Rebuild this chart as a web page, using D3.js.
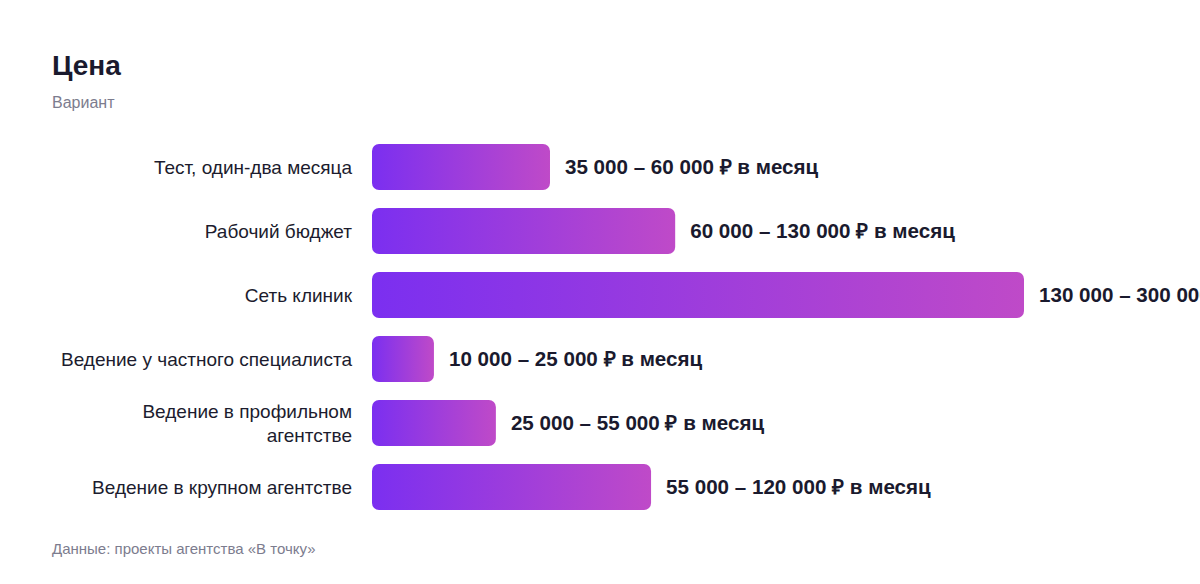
<!DOCTYPE html>
<html>
<head>
<meta charset="utf-8">
<script src="https://cdn.jsdelivr.net/npm/d3@7"></script>
<style>
  body { margin: 0; background: #fff; }
  svg { display: block; font-family: "Liberation Sans", Arial, Helvetica, sans-serif; }
</style>
</head>
<body>
<div id="chart"></div>
<script>
// categories (a "\n" splits a label onto two lines)
var categories = [
  "Тест, один-два месяца",
  "Рабочий бюджет",
  "Сеть клиник",
  "Ведение у частного специалиста",
  "Ведение в профильном\nагентстве",
  "Ведение в крупном агентстве"
];
// relative bar length (largest = 100)
var barValues = [27.3, 46.5, 100, 9.5, 19, 42.8];
var priceLabels = [
  "35 000 – 60 000 ₽ в месяц",
  "60 000 – 130 000 ₽ в месяц",
  "130 000 – 300 000 ₽ в месяц",
  "10 000 – 25 000 ₽ в месяц",
  "25 000 – 55 000 ₽ в месяц",
  "55 000 – 120 000 ₽ в месяц"
];

function renderBars(elem) {
  var width = 1200, height = 584;
  var plotLeft = 372, plotRight = 1024, plotTop = 144, plotBottom = 510;

  var svg = elem.append("svg")
    .attr("width", width)
    .attr("height", height);

  // gradient is per bar (objectBoundingBox)
  var grad = svg.append("defs").append("linearGradient")
    .attr("id", "barGrad")
    .attr("x1", "0%").attr("x2", "100%")
    .attr("y1", "0%").attr("y2", "0%");
  grad.append("stop").attr("offset", "0%").attr("stop-color", "#7b2ff0");
  grad.append("stop").attr("offset", "100%").attr("stop-color", "#bf4ac8");

  svg.append("text")
    .attr("x", 52).attr("y", 75)
    .attr("font-size", 28)
    .attr("font-weight", 700)
    .attr("fill", "#1a1a2e")
    .text("Цена");

  svg.append("text")
    .attr("x", 52).attr("y", 108)
    .attr("font-size", 16)
    .attr("fill", "#7c7c8e")
    .text("Вариант");

  var x = d3.scaleLinear()
    .domain([0, d3.max(barValues)])
    .range([plotLeft, plotRight]);

  var y = d3.scaleBand()
    .domain(categories)
    .range([plotTop, plotBottom])
    .paddingInner(0.28125)
    .paddingOuter(0);

  var row = svg.selectAll(".row")
    .data(categories)
    .enter().append("g")
      .attr("class", "row");

  row.append("rect")
    .attr("x", x(0))
    .attr("y", function(d) { return y(d); })
    .attr("width", function(d, i) { return x(barValues[i]) - x(0); })
    .attr("height", y.bandwidth())
    .attr("rx", 7)
    .attr("fill", "url(#barGrad)");

  // category labels, right aligned
  row.append("text")
    .attr("text-anchor", "end")
    .attr("font-size", 19)
    .attr("fill", "#1c1c2e")
    .each(function(d) {
      var lines = d.split("\n");
      var self = d3.select(this);
      var mid = y(d) + y.bandwidth() / 2;
      var lh = 24;
      lines.forEach(function(line, k) {
        self.append("tspan")
          .attr("x", plotLeft - 20)
          .attr("y", mid + (k - (lines.length - 1) / 2) * lh)
          .attr("dy", "0.35em")
          .text(line);
      });
    });

  // value labels
  row.append("text")
    .attr("x", function(d, i) { return x(barValues[i]) + 15; })
    .attr("y", function(d) { return y(d) + y.bandwidth() / 2; })
    .attr("dy", "0.36em")
    .attr("font-size", 20.6)
    .attr("font-weight", 700)
    .attr("fill", "#1a1a2e")
    .text(function(d, i) { return priceLabels[i]; });

  svg.append("text")
    .attr("x", 52).attr("y", 554)
    .attr("font-size", 15)
    .attr("fill", "#7c7c8e")
    .text("Данные: проекты агентства «В точку»");
}

renderBars(d3.select("#chart"));
</script>
</body>
</html>
